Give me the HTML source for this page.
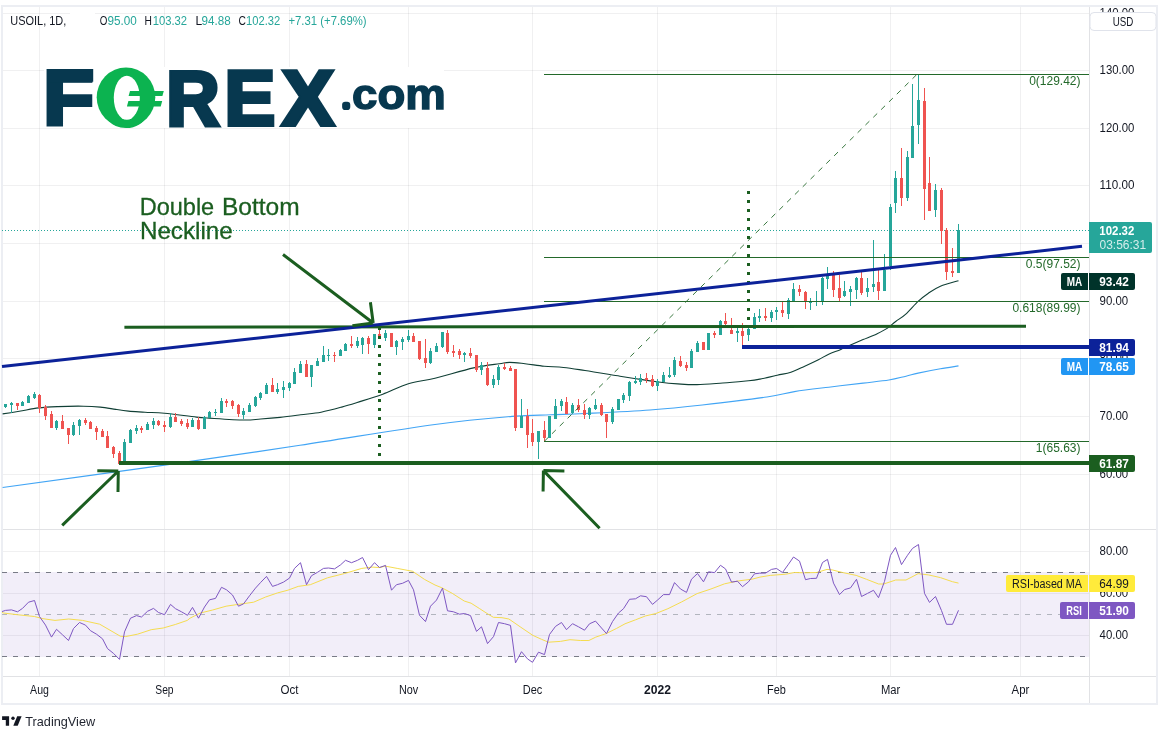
<!DOCTYPE html>
<html lang="en">
<head>
<meta charset="utf-8">
<title>USOIL Daily Chart - FOREX.com</title>
<style>
html,body{margin:0;padding:0;background:#fff;}
body{width:1167px;height:739px;overflow:hidden;font-family:"Liberation Sans", Arial, sans-serif;}
svg{display:block;}
text{white-space:pre;}
</style>
</head>
<body>
<svg width="1167" height="739" viewBox="0 0 1167 739" font-family='"Liberation Sans", Arial, sans-serif'>
<rect x="0" y="0" width="1167" height="739" fill="#ffffff" />
<g shape-rendering="crispEdges">
<rect x="39" y="6" width="1" height="670" fill="rgba(30,34,45,0.065)" />
<rect x="164" y="6" width="1" height="670" fill="rgba(30,34,45,0.065)" />
<rect x="289" y="6" width="1" height="670" fill="rgba(30,34,45,0.065)" />
<rect x="408" y="6" width="1" height="670" fill="rgba(30,34,45,0.065)" />
<rect x="532" y="6" width="1" height="670" fill="rgba(30,34,45,0.065)" />
<rect x="657" y="6" width="1" height="670" fill="rgba(30,34,45,0.065)" />
<rect x="776" y="6" width="1" height="670" fill="rgba(30,34,45,0.065)" />
<rect x="890" y="6" width="1" height="670" fill="rgba(30,34,45,0.065)" />
<rect x="1020" y="6" width="1" height="670" fill="rgba(30,34,45,0.065)" />
<rect x="3" y="13" width="1086" height="1" fill="rgba(30,34,45,0.065)" />
<rect x="3" y="70" width="1086" height="1" fill="rgba(30,34,45,0.065)" />
<rect x="3" y="128" width="1086" height="1" fill="rgba(30,34,45,0.065)" />
<rect x="3" y="185" width="1086" height="1" fill="rgba(30,34,45,0.065)" />
<rect x="3" y="243" width="1086" height="1" fill="rgba(30,34,45,0.065)" />
<rect x="3" y="301" width="1086" height="1" fill="rgba(30,34,45,0.065)" />
<rect x="3" y="358" width="1086" height="1" fill="rgba(30,34,45,0.065)" />
<rect x="3" y="416" width="1086" height="1" fill="rgba(30,34,45,0.065)" />
<rect x="3" y="474" width="1086" height="1" fill="rgba(30,34,45,0.065)" />
<rect x="3" y="551" width="1086" height="1" fill="rgba(30,34,45,0.065)" />
<rect x="3" y="593" width="1086" height="1" fill="rgba(30,34,45,0.065)" />
<rect x="3" y="635" width="1086" height="1" fill="rgba(30,34,45,0.065)" />
<rect x="3" y="572" width="1086" height="85" fill="#7e57c2" fill-opacity="0.1"/>
<rect x="70" y="12" width="25" height="3" fill="#ffffff" />
<rect x="1" y="5" width="1157" height="2" fill="#eceef3" />
<rect x="1" y="5" width="2" height="700" fill="#eceef3" />
<rect x="1156" y="5" width="2" height="700" fill="#eceef3" />
<rect x="1" y="703" width="1157" height="2" fill="#eceef3" />
<rect x="1089" y="7" width="1" height="696" fill="#e1e2e5" />
<rect x="3" y="529" width="1153" height="1" fill="#e1e2e5" />
<rect x="3" y="676" width="1153" height="1" fill="#e1e2e5" />
</g>
<line x1="2" y1="230.5" x2="1089" y2="230.5" stroke="#26a69a" stroke-width="1" stroke-dasharray="1 2" shape-rendering="crispEdges"/>
<rect x="44" y="67" width="400" height="61" fill="#ffffff" />
<path d="M2.6,487.5C29.6,483.8 114.9,472.1 164.5,465.1C214.1,458.1 254.9,452.1 300.0,445.3C345.1,438.5 399.7,429.3 435.0,424.5C470.3,419.7 492.7,418.0 512.0,416.4C531.3,414.8 538.5,415.3 550.7,414.8C562.9,414.3 568.5,414.3 585.0,413.5C601.5,412.7 630.5,411.4 650.0,410.0C669.5,408.6 682.8,407.2 702.3,405.0C721.8,402.8 751.5,399.2 766.9,397.0C782.2,394.8 784.1,393.2 794.4,391.6C804.7,390.0 817.2,388.6 828.7,387.2C840.2,385.8 853.1,384.3 863.1,383.1C873.1,381.9 881.8,381.1 888.9,380.0C896.0,378.9 901.1,377.3 906.0,376.2C910.9,375.1 912.4,374.3 918.1,373.1C923.8,371.9 933.7,370.0 940.4,368.8C947.1,367.6 955.5,366.4 958.5,365.9" fill="none" stroke="#42a5f5" stroke-width="1.1" />
<path d="M2.6,413.9C5.4,413.5 13.3,412.3 19.3,411.3C25.3,410.3 32.2,408.7 38.6,407.9C45.0,407.1 50.3,406.9 57.8,406.6C65.3,406.3 76.4,406.1 83.5,406.2C90.6,406.3 94.9,406.6 100.3,407.1C105.7,407.6 111.0,408.7 115.7,409.4C120.4,410.1 123.6,410.6 128.5,411.1C133.4,411.6 139.0,411.8 145.0,412.2C151.0,412.6 155.9,412.5 164.5,413.3C173.1,414.1 188.9,416.3 196.4,417.1C203.9,417.9 201.4,417.6 209.3,418.1C217.2,418.6 235.4,419.9 244.0,420.0C252.6,420.1 254.7,419.4 260.7,419.0C266.7,418.6 273.4,418.1 280.0,417.4C286.6,416.7 293.8,415.7 300.6,414.8C307.5,413.9 314.2,413.5 321.1,412.2C328.0,410.9 334.8,409.0 341.7,407.1C348.6,405.2 355.4,403.0 362.3,400.9C369.2,398.8 375.1,397.0 382.8,394.2C390.5,391.4 399.7,386.5 408.4,383.8C417.1,381.1 424.1,380.9 435.0,378.2C445.9,375.5 462.9,370.3 473.6,367.9C484.3,365.5 493.3,364.6 499.3,363.7C505.3,362.8 505.3,362.4 509.6,362.4C513.9,362.4 519.2,363.1 525.0,363.7C530.8,364.3 537.9,365.6 544.3,366.2C550.7,366.8 556.7,366.8 563.5,367.5C570.3,368.2 575.6,369.1 585.0,370.5C594.4,371.9 610.7,374.7 620.0,376.2C629.3,377.7 634.2,378.4 640.6,379.4C647.0,380.4 652.4,381.2 658.6,382.0C664.8,382.8 671.4,383.5 677.8,383.9C684.2,384.3 689.5,384.8 697.0,384.6C704.5,384.5 714.2,383.6 722.8,383.0C731.4,382.4 742.3,381.3 748.5,380.7C754.7,380.1 755.2,380.0 760.0,379.1C764.8,378.2 772.1,376.4 777.2,375.2C782.4,374.0 786.3,373.7 790.9,372.2C795.5,370.7 800.1,368.3 804.7,366.2C809.3,364.1 814.4,361.7 818.4,359.7C822.4,357.7 825.0,355.9 828.7,354.2C832.4,352.5 837.1,351.0 840.8,349.4C844.5,347.8 847.4,346.3 851.1,344.7C854.8,343.1 858.8,341.4 863.1,339.6C867.4,337.8 872.8,335.8 876.8,333.9C880.8,332.0 884.0,330.5 887.1,328.4C890.2,326.3 892.5,323.9 895.7,321.5C898.9,319.1 902.4,317.2 906.1,313.8C909.8,310.4 914.4,304.8 918.1,301.4C921.8,298.0 924.7,295.7 928.4,293.2C932.1,290.7 935.4,288.4 940.4,286.3C945.4,284.2 955.5,281.6 958.5,280.7" fill="none" stroke="#103f35" stroke-width="1.1" />
<g shape-rendering="crispEdges">
<rect x="5" y="404" width="1" height="4" fill="#26a69a" />
<rect x="4" y="404" width="3" height="3" fill="#26a69a" />
<rect x="11" y="402" width="1" height="11" fill="#26a69a" />
<rect x="10" y="403" width="3" height="2" fill="#26a69a" />
<rect x="17" y="403" width="1" height="7" fill="#ef5350" />
<rect x="16" y="403" width="3" height="3" fill="#ef5350" />
<rect x="22" y="401" width="1" height="5" fill="#26a69a" />
<rect x="21" y="402" width="3" height="4" fill="#26a69a" />
<rect x="28" y="395" width="1" height="8" fill="#26a69a" />
<rect x="27" y="396" width="3" height="7" fill="#26a69a" />
<rect x="34" y="392" width="1" height="7" fill="#26a69a" />
<rect x="33" y="394" width="3" height="4" fill="#26a69a" />
<rect x="39" y="394" width="1" height="19" fill="#ef5350" />
<rect x="38" y="395" width="3" height="13" fill="#ef5350" />
<rect x="45" y="405" width="1" height="15" fill="#ef5350" />
<rect x="44" y="407" width="3" height="9" fill="#ef5350" />
<rect x="51" y="411" width="1" height="17" fill="#ef5350" />
<rect x="50" y="414" width="3" height="14" fill="#ef5350" />
<rect x="56" y="420" width="1" height="10" fill="#26a69a" />
<rect x="55" y="421" width="3" height="7" fill="#26a69a" />
<rect x="62" y="415" width="1" height="14" fill="#ef5350" />
<rect x="61" y="421" width="3" height="8" fill="#ef5350" />
<rect x="68" y="428" width="1" height="16" fill="#ef5350" />
<rect x="67" y="428" width="3" height="7" fill="#ef5350" />
<rect x="73" y="422" width="1" height="14" fill="#26a69a" />
<rect x="72" y="425" width="3" height="10" fill="#26a69a" />
<rect x="79" y="419" width="1" height="16" fill="#26a69a" />
<rect x="78" y="420" width="3" height="6" fill="#26a69a" />
<rect x="85" y="418" width="1" height="7" fill="#ef5350" />
<rect x="84" y="420" width="3" height="3" fill="#ef5350" />
<rect x="90" y="421" width="1" height="8" fill="#ef5350" />
<rect x="89" y="422" width="3" height="7" fill="#ef5350" />
<rect x="96" y="426" width="1" height="14" fill="#ef5350" />
<rect x="95" y="428" width="3" height="4" fill="#ef5350" />
<rect x="102" y="429" width="1" height="8" fill="#ef5350" />
<rect x="101" y="431" width="3" height="6" fill="#ef5350" />
<rect x="107" y="431" width="1" height="17" fill="#ef5350" />
<rect x="106" y="436" width="3" height="12" fill="#ef5350" />
<rect x="113" y="446" width="1" height="12" fill="#ef5350" />
<rect x="112" y="447" width="3" height="7" fill="#ef5350" />
<rect x="119" y="451" width="1" height="13" fill="#ef5350" />
<rect x="118" y="453" width="3" height="11" fill="#ef5350" />
<rect x="124" y="439" width="1" height="23" fill="#26a69a" />
<rect x="123" y="442" width="3" height="20" fill="#26a69a" />
<rect x="130" y="429" width="1" height="14" fill="#26a69a" />
<rect x="129" y="430" width="3" height="13" fill="#26a69a" />
<rect x="136" y="425" width="1" height="9" fill="#26a69a" />
<rect x="135" y="428" width="3" height="3" fill="#26a69a" />
<rect x="141" y="426" width="1" height="7" fill="#ef5350" />
<rect x="140" y="428" width="3" height="2" fill="#ef5350" />
<rect x="147" y="422" width="1" height="8" fill="#26a69a" />
<rect x="146" y="424" width="3" height="6" fill="#26a69a" />
<rect x="153" y="418" width="1" height="11" fill="#26a69a" />
<rect x="152" y="421" width="3" height="4" fill="#26a69a" />
<rect x="158" y="420" width="1" height="6" fill="#ef5350" />
<rect x="157" y="421" width="3" height="4" fill="#ef5350" />
<rect x="164" y="421" width="1" height="11" fill="#ef5350" />
<rect x="163" y="425" width="3" height="2" fill="#ef5350" />
<rect x="170" y="413" width="1" height="15" fill="#26a69a" />
<rect x="169" y="417" width="3" height="10" fill="#26a69a" />
<rect x="175" y="413" width="1" height="9" fill="#ef5350" />
<rect x="174" y="417" width="3" height="5" fill="#ef5350" />
<rect x="181" y="419" width="1" height="7" fill="#ef5350" />
<rect x="180" y="421" width="3" height="3" fill="#ef5350" />
<rect x="187" y="419" width="1" height="10" fill="#ef5350" />
<rect x="186" y="423" width="3" height="4" fill="#ef5350" />
<rect x="192" y="418" width="1" height="9" fill="#26a69a" />
<rect x="191" y="420" width="3" height="7" fill="#26a69a" />
<rect x="198" y="417" width="1" height="13" fill="#ef5350" />
<rect x="197" y="420" width="3" height="9" fill="#ef5350" />
<rect x="204" y="416" width="1" height="13" fill="#26a69a" />
<rect x="203" y="417" width="3" height="12" fill="#26a69a" />
<rect x="209" y="411" width="1" height="7" fill="#26a69a" />
<rect x="208" y="412" width="3" height="6" fill="#26a69a" />
<rect x="215" y="409" width="1" height="7" fill="#26a69a" />
<rect x="214" y="412" width="3" height="1" fill="#26a69a" />
<rect x="221" y="398" width="1" height="15" fill="#26a69a" />
<rect x="220" y="401" width="3" height="12" fill="#26a69a" />
<rect x="226" y="399" width="1" height="8" fill="#ef5350" />
<rect x="225" y="401" width="3" height="2" fill="#ef5350" />
<rect x="232" y="400" width="1" height="9" fill="#ef5350" />
<rect x="231" y="401" width="3" height="5" fill="#ef5350" />
<rect x="238" y="404" width="1" height="13" fill="#ef5350" />
<rect x="237" y="405" width="3" height="9" fill="#ef5350" />
<rect x="243" y="408" width="1" height="11" fill="#26a69a" />
<rect x="242" y="411" width="3" height="4" fill="#26a69a" />
<rect x="249" y="403" width="1" height="9" fill="#26a69a" />
<rect x="248" y="405" width="3" height="7" fill="#26a69a" />
<rect x="255" y="396" width="1" height="11" fill="#26a69a" />
<rect x="254" y="397" width="3" height="9" fill="#26a69a" />
<rect x="260" y="392" width="1" height="8" fill="#26a69a" />
<rect x="259" y="393" width="3" height="5" fill="#26a69a" />
<rect x="266" y="383" width="1" height="11" fill="#26a69a" />
<rect x="265" y="385" width="3" height="9" fill="#26a69a" />
<rect x="272" y="378" width="1" height="14" fill="#ef5350" />
<rect x="271" y="385" width="3" height="7" fill="#ef5350" />
<rect x="277" y="383" width="1" height="11" fill="#26a69a" />
<rect x="276" y="389" width="3" height="3" fill="#26a69a" />
<rect x="283" y="381" width="1" height="17" fill="#26a69a" />
<rect x="282" y="387" width="3" height="3" fill="#26a69a" />
<rect x="289" y="382" width="1" height="9" fill="#26a69a" />
<rect x="288" y="383" width="3" height="5" fill="#26a69a" />
<rect x="294" y="368" width="1" height="16" fill="#26a69a" />
<rect x="293" y="372" width="3" height="12" fill="#26a69a" />
<rect x="300" y="361" width="1" height="12" fill="#26a69a" />
<rect x="299" y="364" width="3" height="9" fill="#26a69a" />
<rect x="306" y="360" width="1" height="17" fill="#ef5350" />
<rect x="305" y="364" width="3" height="13" fill="#ef5350" />
<rect x="311" y="365" width="1" height="22" fill="#26a69a" />
<rect x="310" y="365" width="3" height="12" fill="#26a69a" />
<rect x="317" y="358" width="1" height="8" fill="#26a69a" />
<rect x="316" y="361" width="3" height="5" fill="#26a69a" />
<rect x="323" y="346" width="1" height="16" fill="#26a69a" />
<rect x="322" y="355" width="3" height="7" fill="#26a69a" />
<rect x="328" y="349" width="1" height="12" fill="#26a69a" />
<rect x="327" y="355" width="3" height="1" fill="#26a69a" />
<rect x="334" y="352" width="1" height="10" fill="#ef5350" />
<rect x="333" y="355" width="3" height="1" fill="#ef5350" />
<rect x="340" y="349" width="1" height="7" fill="#26a69a" />
<rect x="339" y="350" width="3" height="6" fill="#26a69a" />
<rect x="345" y="343" width="1" height="8" fill="#26a69a" />
<rect x="344" y="344" width="3" height="7" fill="#26a69a" />
<rect x="351" y="336" width="1" height="12" fill="#ef5350" />
<rect x="350" y="344" width="3" height="2" fill="#ef5350" />
<rect x="357" y="337" width="1" height="11" fill="#26a69a" />
<rect x="356" y="341" width="3" height="5" fill="#26a69a" />
<rect x="362" y="337" width="1" height="17" fill="#26a69a" />
<rect x="361" y="338" width="3" height="7" fill="#26a69a" />
<rect x="368" y="336" width="1" height="18" fill="#ef5350" />
<rect x="367" y="338" width="3" height="6" fill="#ef5350" />
<rect x="374" y="334" width="1" height="14" fill="#26a69a" />
<rect x="373" y="334" width="3" height="11" fill="#26a69a" />
<rect x="379" y="330" width="1" height="6" fill="#ef5350" />
<rect x="378" y="334" width="3" height="2" fill="#ef5350" />
<rect x="385" y="330" width="1" height="11" fill="#26a69a" />
<rect x="384" y="333" width="3" height="5" fill="#26a69a" />
<rect x="391" y="333" width="1" height="14" fill="#ef5350" />
<rect x="390" y="333" width="3" height="14" fill="#ef5350" />
<rect x="396" y="340" width="1" height="15" fill="#26a69a" />
<rect x="395" y="341" width="3" height="6" fill="#26a69a" />
<rect x="402" y="337" width="1" height="13" fill="#26a69a" />
<rect x="401" y="339" width="3" height="3" fill="#26a69a" />
<rect x="408" y="330" width="1" height="12" fill="#26a69a" />
<rect x="407" y="336" width="3" height="4" fill="#26a69a" />
<rect x="413" y="333" width="1" height="9" fill="#ef5350" />
<rect x="412" y="336" width="3" height="6" fill="#ef5350" />
<rect x="419" y="341" width="1" height="19" fill="#ef5350" />
<rect x="418" y="341" width="3" height="18" fill="#ef5350" />
<rect x="425" y="339" width="1" height="29" fill="#ef5350" />
<rect x="424" y="358" width="3" height="5" fill="#ef5350" />
<rect x="430" y="348" width="1" height="16" fill="#26a69a" />
<rect x="429" y="351" width="3" height="12" fill="#26a69a" />
<rect x="436" y="343" width="1" height="9" fill="#26a69a" />
<rect x="435" y="346" width="3" height="6" fill="#26a69a" />
<rect x="442" y="332" width="1" height="16" fill="#26a69a" />
<rect x="441" y="332" width="3" height="15" fill="#26a69a" />
<rect x="447" y="330" width="1" height="24" fill="#ef5350" />
<rect x="446" y="333" width="3" height="19" fill="#ef5350" />
<rect x="453" y="345" width="1" height="12" fill="#ef5350" />
<rect x="452" y="351" width="3" height="2" fill="#ef5350" />
<rect x="459" y="349" width="1" height="10" fill="#ef5350" />
<rect x="458" y="351" width="3" height="4" fill="#ef5350" />
<rect x="464" y="352" width="1" height="10" fill="#26a69a" />
<rect x="463" y="353" width="3" height="2" fill="#26a69a" />
<rect x="470" y="348" width="1" height="10" fill="#ef5350" />
<rect x="469" y="353" width="3" height="3" fill="#ef5350" />
<rect x="476" y="355" width="1" height="17" fill="#ef5350" />
<rect x="475" y="355" width="3" height="15" fill="#ef5350" />
<rect x="481" y="362" width="1" height="13" fill="#26a69a" />
<rect x="480" y="365" width="3" height="5" fill="#26a69a" />
<rect x="487" y="362" width="1" height="24" fill="#ef5350" />
<rect x="486" y="368" width="3" height="17" fill="#ef5350" />
<rect x="493" y="375" width="1" height="13" fill="#26a69a" />
<rect x="492" y="379" width="3" height="6" fill="#26a69a" />
<rect x="498" y="365" width="1" height="20" fill="#26a69a" />
<rect x="497" y="367" width="3" height="13" fill="#26a69a" />
<rect x="504" y="363" width="1" height="7" fill="#ef5350" />
<rect x="503" y="367" width="3" height="2" fill="#ef5350" />
<rect x="510" y="366" width="1" height="5" fill="#ef5350" />
<rect x="509" y="368" width="3" height="3" fill="#ef5350" />
<rect x="515" y="369" width="1" height="62" fill="#ef5350" />
<rect x="514" y="369" width="3" height="59" fill="#ef5350" />
<rect x="521" y="399" width="1" height="29" fill="#26a69a" />
<rect x="520" y="416" width="3" height="12" fill="#26a69a" />
<rect x="527" y="409" width="1" height="39" fill="#ef5350" />
<rect x="526" y="416" width="3" height="19" fill="#ef5350" />
<rect x="532" y="419" width="1" height="27" fill="#ef5350" />
<rect x="531" y="433" width="3" height="9" fill="#ef5350" />
<rect x="538" y="431" width="1" height="28" fill="#26a69a" />
<rect x="537" y="431" width="3" height="11" fill="#26a69a" />
<rect x="544" y="421" width="1" height="20" fill="#ef5350" />
<rect x="543" y="430" width="3" height="8" fill="#ef5350" />
<rect x="549" y="416" width="1" height="22" fill="#26a69a" />
<rect x="548" y="416" width="3" height="22" fill="#26a69a" />
<rect x="555" y="399" width="1" height="20" fill="#26a69a" />
<rect x="554" y="406" width="3" height="13" fill="#26a69a" />
<rect x="561" y="399" width="1" height="12" fill="#26a69a" />
<rect x="560" y="401" width="3" height="5" fill="#26a69a" />
<rect x="566" y="397" width="1" height="17" fill="#ef5350" />
<rect x="565" y="402" width="3" height="12" fill="#ef5350" />
<rect x="572" y="403" width="1" height="11" fill="#26a69a" />
<rect x="571" y="405" width="3" height="8" fill="#26a69a" />
<rect x="578" y="399" width="1" height="13" fill="#ef5350" />
<rect x="577" y="405" width="3" height="5" fill="#ef5350" />
<rect x="584" y="404" width="1" height="15" fill="#ef5350" />
<rect x="583" y="410" width="3" height="5" fill="#ef5350" />
<rect x="589" y="407" width="1" height="12" fill="#26a69a" />
<rect x="588" y="408" width="3" height="7" fill="#26a69a" />
<rect x="595" y="399" width="1" height="11" fill="#26a69a" />
<rect x="594" y="405" width="3" height="4" fill="#26a69a" />
<rect x="601" y="403" width="1" height="13" fill="#ef5350" />
<rect x="600" y="405" width="3" height="10" fill="#ef5350" />
<rect x="606" y="414" width="1" height="24" fill="#ef5350" />
<rect x="605" y="414" width="3" height="8" fill="#ef5350" />
<rect x="612" y="407" width="1" height="17" fill="#26a69a" />
<rect x="611" y="409" width="3" height="13" fill="#26a69a" />
<rect x="618" y="399" width="1" height="11" fill="#26a69a" />
<rect x="617" y="399" width="3" height="11" fill="#26a69a" />
<rect x="623" y="393" width="1" height="10" fill="#26a69a" />
<rect x="622" y="395" width="3" height="5" fill="#26a69a" />
<rect x="629" y="381" width="1" height="20" fill="#26a69a" />
<rect x="628" y="382" width="3" height="14" fill="#26a69a" />
<rect x="635" y="376" width="1" height="8" fill="#26a69a" />
<rect x="634" y="381" width="3" height="2" fill="#26a69a" />
<rect x="640" y="374" width="1" height="11" fill="#26a69a" />
<rect x="639" y="378" width="3" height="4" fill="#26a69a" />
<rect x="646" y="373" width="1" height="10" fill="#ef5350" />
<rect x="645" y="378" width="3" height="2" fill="#ef5350" />
<rect x="652" y="375" width="1" height="12" fill="#ef5350" />
<rect x="651" y="379" width="3" height="7" fill="#ef5350" />
<rect x="657" y="379" width="1" height="12" fill="#26a69a" />
<rect x="656" y="381" width="3" height="5" fill="#26a69a" />
<rect x="663" y="372" width="1" height="10" fill="#26a69a" />
<rect x="662" y="375" width="3" height="7" fill="#26a69a" />
<rect x="669" y="367" width="1" height="11" fill="#26a69a" />
<rect x="668" y="375" width="3" height="2" fill="#26a69a" />
<rect x="674" y="357" width="1" height="20" fill="#26a69a" />
<rect x="673" y="360" width="3" height="15" fill="#26a69a" />
<rect x="680" y="356" width="1" height="11" fill="#ef5350" />
<rect x="679" y="361" width="3" height="5" fill="#ef5350" />
<rect x="686" y="362" width="1" height="9" fill="#ef5350" />
<rect x="685" y="365" width="3" height="3" fill="#ef5350" />
<rect x="691" y="349" width="1" height="19" fill="#26a69a" />
<rect x="690" y="351" width="3" height="17" fill="#26a69a" />
<rect x="697" y="341" width="1" height="11" fill="#26a69a" />
<rect x="696" y="343" width="3" height="9" fill="#26a69a" />
<rect x="703" y="342" width="1" height="8" fill="#ef5350" />
<rect x="702" y="342" width="3" height="8" fill="#ef5350" />
<rect x="708" y="333" width="1" height="17" fill="#26a69a" />
<rect x="707" y="333" width="3" height="17" fill="#26a69a" />
<rect x="714" y="331" width="1" height="7" fill="#ef5350" />
<rect x="713" y="333" width="3" height="2" fill="#ef5350" />
<rect x="720" y="320" width="1" height="15" fill="#26a69a" />
<rect x="719" y="321" width="3" height="14" fill="#26a69a" />
<rect x="725" y="313" width="1" height="12" fill="#ef5350" />
<rect x="724" y="321" width="3" height="3" fill="#ef5350" />
<rect x="731" y="318" width="1" height="16" fill="#ef5350" />
<rect x="730" y="330" width="3" height="4" fill="#ef5350" />
<rect x="737" y="328" width="1" height="14" fill="#26a69a" />
<rect x="736" y="331" width="3" height="2" fill="#26a69a" />
<rect x="742" y="323" width="1" height="22" fill="#ef5350" />
<rect x="741" y="331" width="3" height="5" fill="#ef5350" />
<rect x="748" y="328" width="1" height="13" fill="#26a69a" />
<rect x="747" y="329" width="3" height="6" fill="#26a69a" />
<rect x="754" y="313" width="1" height="16" fill="#26a69a" />
<rect x="753" y="317" width="3" height="12" fill="#26a69a" />
<rect x="759" y="309" width="1" height="13" fill="#26a69a" />
<rect x="758" y="316" width="3" height="2" fill="#26a69a" />
<rect x="765" y="308" width="1" height="13" fill="#ef5350" />
<rect x="764" y="316" width="3" height="2" fill="#ef5350" />
<rect x="771" y="310" width="1" height="12" fill="#26a69a" />
<rect x="770" y="312" width="3" height="6" fill="#26a69a" />
<rect x="776" y="307" width="1" height="13" fill="#26a69a" />
<rect x="775" y="310" width="3" height="2" fill="#26a69a" />
<rect x="782" y="302" width="1" height="15" fill="#ef5350" />
<rect x="781" y="310" width="3" height="3" fill="#ef5350" />
<rect x="788" y="298" width="1" height="21" fill="#26a69a" />
<rect x="787" y="300" width="3" height="14" fill="#26a69a" />
<rect x="793" y="283" width="1" height="18" fill="#26a69a" />
<rect x="792" y="289" width="3" height="12" fill="#26a69a" />
<rect x="799" y="285" width="1" height="11" fill="#ef5350" />
<rect x="798" y="289" width="3" height="3" fill="#ef5350" />
<rect x="805" y="291" width="1" height="18" fill="#ef5350" />
<rect x="804" y="292" width="3" height="10" fill="#ef5350" />
<rect x="810" y="298" width="1" height="12" fill="#26a69a" />
<rect x="809" y="301" width="3" height="2" fill="#26a69a" />
<rect x="816" y="291" width="1" height="15" fill="#26a69a" />
<rect x="822" y="277" width="1" height="28" fill="#26a69a" />
<rect x="821" y="278" width="3" height="23" fill="#26a69a" />
<rect x="827" y="267" width="1" height="22" fill="#26a69a" />
<rect x="826" y="276" width="3" height="3" fill="#26a69a" />
<rect x="833" y="271" width="1" height="26" fill="#ef5350" />
<rect x="832" y="275" width="3" height="15" fill="#ef5350" />
<rect x="839" y="275" width="1" height="26" fill="#ef5350" />
<rect x="838" y="288" width="3" height="10" fill="#ef5350" />
<rect x="844" y="281" width="1" height="16" fill="#26a69a" />
<rect x="843" y="291" width="3" height="5" fill="#26a69a" />
<rect x="850" y="286" width="1" height="20" fill="#26a69a" />
<rect x="849" y="289" width="3" height="3" fill="#26a69a" />
<rect x="856" y="277" width="1" height="22" fill="#26a69a" />
<rect x="855" y="278" width="3" height="12" fill="#26a69a" />
<rect x="861" y="272" width="1" height="23" fill="#ef5350" />
<rect x="860" y="278" width="3" height="15" fill="#ef5350" />
<rect x="867" y="278" width="1" height="19" fill="#26a69a" />
<rect x="866" y="288" width="3" height="4" fill="#26a69a" />
<rect x="873" y="240" width="1" height="52" fill="#26a69a" />
<rect x="872" y="284" width="3" height="3" fill="#26a69a" />
<rect x="878" y="270" width="1" height="30" fill="#ef5350" />
<rect x="877" y="282" width="3" height="9" fill="#ef5350" />
<rect x="884" y="254" width="1" height="37" fill="#26a69a" />
<rect x="883" y="270" width="3" height="21" fill="#26a69a" />
<rect x="890" y="204" width="1" height="66" fill="#26a69a" />
<rect x="889" y="207" width="3" height="59" fill="#26a69a" />
<rect x="895" y="171" width="1" height="42" fill="#26a69a" />
<rect x="894" y="178" width="3" height="25" fill="#26a69a" />
<rect x="901" y="148" width="1" height="58" fill="#ef5350" />
<rect x="900" y="178" width="3" height="20" fill="#ef5350" />
<rect x="907" y="151" width="1" height="50" fill="#26a69a" />
<rect x="906" y="157" width="3" height="41" fill="#26a69a" />
<rect x="912" y="84" width="1" height="74" fill="#26a69a" />
<rect x="911" y="126" width="3" height="32" fill="#26a69a" />
<rect x="918" y="74" width="1" height="70" fill="#26a69a" />
<rect x="917" y="100" width="3" height="25" fill="#26a69a" />
<rect x="924" y="88" width="1" height="132" fill="#ef5350" />
<rect x="923" y="101" width="3" height="88" fill="#ef5350" />
<rect x="929" y="157" width="1" height="54" fill="#ef5350" />
<rect x="928" y="183" width="3" height="28" fill="#ef5350" />
<rect x="935" y="184" width="1" height="33" fill="#26a69a" />
<rect x="934" y="190" width="3" height="20" fill="#26a69a" />
<rect x="941" y="188" width="1" height="56" fill="#ef5350" />
<rect x="940" y="190" width="3" height="41" fill="#ef5350" />
<rect x="946" y="228" width="1" height="52" fill="#ef5350" />
<rect x="945" y="230" width="3" height="42" fill="#ef5350" />
<rect x="952" y="248" width="1" height="29" fill="#ef5350" />
<rect x="951" y="271" width="3" height="2" fill="#ef5350" />
<rect x="958" y="224" width="1" height="49" fill="#26a69a" />
<rect x="957" y="230" width="3" height="43" fill="#26a69a" />
</g>
<g shape-rendering="crispEdges">
<rect x="544" y="74" width="545" height="1" fill="#23692a" />
<rect x="544" y="257" width="545" height="1" fill="#23692a" />
<rect x="544" y="301" width="545" height="1" fill="#23692a" />
<rect x="544" y="441" width="545" height="1" fill="#23692a" />
</g>
<line x1="544.1" y1="441.5" x2="916.8" y2="74.5" stroke="#23692a" stroke-width="1" stroke-dasharray="5.5 5.5" opacity="0.9"/>
<g shape-rendering="crispEdges">
<rect x="119" y="461" width="970" height="4" fill="#1b5e20" />
<rect x="742" y="345" width="347" height="4" fill="#0c2299" />
</g>
<line x1="124.4" y1="327.2" x2="1026" y2="326.2" stroke="#1b5e20" stroke-width="3" />
<g shape-rendering="crispEdges">
<rect x="378" y="327" width="3" height="3" fill="#1b5e20" />
<rect x="747" y="191" width="3" height="3" fill="#1b5e20" />
<rect x="378" y="336" width="3" height="3" fill="#1b5e20" />
<rect x="747" y="200" width="3" height="3" fill="#1b5e20" />
<rect x="378" y="345" width="3" height="3" fill="#1b5e20" />
<rect x="747" y="209" width="3" height="3" fill="#1b5e20" />
<rect x="378" y="354" width="3" height="3" fill="#1b5e20" />
<rect x="747" y="218" width="3" height="3" fill="#1b5e20" />
<rect x="378" y="363" width="3" height="3" fill="#1b5e20" />
<rect x="747" y="227" width="3" height="3" fill="#1b5e20" />
<rect x="378" y="372" width="3" height="3" fill="#1b5e20" />
<rect x="747" y="236" width="3" height="3" fill="#1b5e20" />
<rect x="378" y="381" width="3" height="3" fill="#1b5e20" />
<rect x="747" y="245" width="3" height="3" fill="#1b5e20" />
<rect x="378" y="390" width="3" height="3" fill="#1b5e20" />
<rect x="747" y="254" width="3" height="3" fill="#1b5e20" />
<rect x="378" y="399" width="3" height="3" fill="#1b5e20" />
<rect x="747" y="263" width="3" height="3" fill="#1b5e20" />
<rect x="378" y="408" width="3" height="3" fill="#1b5e20" />
<rect x="747" y="272" width="3" height="3" fill="#1b5e20" />
<rect x="378" y="417" width="3" height="3" fill="#1b5e20" />
<rect x="747" y="281" width="3" height="3" fill="#1b5e20" />
<rect x="378" y="426" width="3" height="3" fill="#1b5e20" />
<rect x="747" y="290" width="3" height="3" fill="#1b5e20" />
<rect x="378" y="435" width="3" height="3" fill="#1b5e20" />
<rect x="747" y="299" width="3" height="3" fill="#1b5e20" />
<rect x="378" y="444" width="3" height="3" fill="#1b5e20" />
<rect x="747" y="308" width="3" height="3" fill="#1b5e20" />
<rect x="378" y="453" width="3" height="3" fill="#1b5e20" />
<rect x="747" y="317" width="3" height="3" fill="#1b5e20" />
</g>
<line x1="2" y1="366.5" x2="1082" y2="246.3" stroke="#0c2299" stroke-width="3" />
<path d="M283,254.5L373.2,323M352.4,325.8L373.2,323M370.4,302.2L373.2,323" fill="none" stroke="#1b5e20" stroke-width="3" stroke-linejoin="round" stroke-linecap="butt"/>
<path d="M62.2,525.3L118.3,471M118.0,492.0L118.3,471M97.3,470.7L118.3,471" fill="none" stroke="#1b5e20" stroke-width="3" stroke-linejoin="round" stroke-linecap="butt"/>
<path d="M599.6,528.2L543.4,470.6M564.4,470.9L543.4,470.6M543.1,491.6L543.4,470.6" fill="none" stroke="#1b5e20" stroke-width="3" stroke-linejoin="round" stroke-linecap="butt"/>
<text y="214.7" font-size="24" fill="#1b5e20" stroke="#1b5e20" stroke-width="0.3"><tspan x="139.7" textLength="74.5" lengthAdjust="spacingAndGlyphs">Double</tspan> <tspan x="221.9" textLength="77.7" lengthAdjust="spacingAndGlyphs">Bottom</tspan></text>
<text x="139.9" y="238.7" font-size="24" fill="#1b5e20" text-anchor="start" font-weight="normal" textLength="92.9" lengthAdjust="spacingAndGlyphs" stroke="#1b5e20" stroke-width="0.3">Neckline</text>
<text x="1080.5" y="84.6" font-size="12" fill="#23692a" text-anchor="end" font-weight="normal" >0(129.42)</text>
<text x="1080.5" y="267.8" font-size="12" fill="#23692a" text-anchor="end" font-weight="normal" >0.5(97.52)</text>
<text x="1080.5" y="311.8" font-size="12" fill="#23692a" text-anchor="end" font-weight="normal" >0.618(89.99)</text>
<text x="1080.5" y="451.8" font-size="12" fill="#23692a" text-anchor="end" font-weight="normal" >1(65.63)</text>
<line x1="2" y1="572.5" x2="1089" y2="572.5" stroke="#787b86" stroke-width="1" stroke-dasharray="5 6" shape-rendering="crispEdges"/>
<line x1="2" y1="656.5" x2="1089" y2="656.5" stroke="#787b86" stroke-width="1" stroke-dasharray="5 6" shape-rendering="crispEdges"/>
<line x1="2" y1="614.5" x2="1089" y2="614.5" stroke="#b2b5be" stroke-width="1" stroke-dasharray="5 6" shape-rendering="crispEdges"/>
<clipPath id="pane"><rect x="2" y="6" width="1087" height="670"/></clipPath>
<g clip-path="url(#pane)">
<polyline points="-2.0,610.4 3.4,613.0 17.2,614.7 34.4,616.5 43.0,618.7 55.0,620.4 68.7,619.0 82.5,620.4 99.7,624.2 110.0,630.2 120.3,636.2 125.4,636.6 137.5,634.2 151.2,629.7 163.2,628.0 175.3,624.5 187.3,620.4 190.0,618.2 200.3,613.0 212.3,610.1 226.1,606.2 238.1,604.4 253.6,602.2 265.6,597.0 277.6,592.9 287.9,590.2 298.2,586.4 310.3,584.7 327.5,577.8 344.6,573.5 361.8,568.4 372.1,567.1 379.0,567.5 380.0,567.5 385.2,566.1 397.2,568.4 412.6,571.3 424.7,579.5 435.0,585.0 441.9,587.8 452.2,593.3 464.2,601.0 471.1,603.2 479.7,608.7 488.2,614.2 493.4,617.3 502.0,617.7 508.9,619.0 520.9,627.3 532.9,635.4 541.5,639.3 548.4,642.2 560.4,641.4 570.0,639.7 580.3,640.5 588.9,640.5 595.8,637.1 606.1,633.6 616.4,628.5 625.0,623.8 635.3,619.9 645.6,615.9 655.9,613.5 667.9,608.7 681.7,601.9 697.1,593.6 710.9,589.0 724.6,583.8 738.4,580.9 752.1,579.2 760.0,577.1 770.3,575.4 785.8,574.2 794.4,572.5 804.7,572.8 816.7,572.5 827.0,569.4 832.2,569.9 842.5,572.5 856.2,575.4 866.5,579.3 878.6,584.0 883.7,584.0 895.7,580.0 906.0,580.0 918.1,573.7 928.4,574.9 940.4,577.6 952.4,581.7 958.5,583.1" fill="none" stroke="#f5dc50" stroke-width="1.0" stroke-linejoin="round" />
<polyline points="-0.2,612.3 5.5,610.4 11.5,609.9 17.5,611.8 22.5,608.4 28.5,602.2 34.5,600.5 39.5,616.5 45.5,625.1 51.5,637.1 56.5,629.3 62.5,634.8 68.5,640.5 73.5,628.5 79.5,622.5 85.5,625.1 90.5,630.7 96.5,634.2 102.5,638.8 107.5,648.6 113.5,653.4 119.5,659.4 124.5,631.9 130.5,618.2 136.5,615.6 141.5,617.0 147.5,611.3 153.5,608.4 158.5,612.5 164.5,614.7 170.5,604.4 175.5,608.7 181.5,611.8 187.5,615.3 192.5,607.4 198.5,618.2 204.5,607.0 209.5,599.8 215.5,598.4 221.5,587.3 226.5,589.8 232.5,595.0 238.5,606.2 243.5,603.9 249.5,595.8 255.5,588.1 260.5,582.6 266.5,576.4 272.5,586.4 277.5,584.7 283.5,582.1 289.5,578.1 294.5,568.4 300.5,562.7 306.5,584.7 311.5,575.7 317.5,572.3 323.5,568.4 328.5,568.0 334.5,568.9 340.5,564.9 345.5,560.3 351.5,562.7 357.5,560.3 362.5,557.5 368.5,569.6 374.5,562.7 379.5,567.5 385.5,565.4 391.5,590.2 396.5,584.7 402.5,583.3 408.5,580.4 413.5,589.8 419.5,615.3 425.5,621.6 430.5,606.2 436.5,600.1 442.5,588.1 447.5,610.8 453.5,611.8 459.5,614.2 464.5,613.5 470.5,615.6 476.5,631.4 481.5,626.8 487.5,643.6 493.5,636.6 498.5,622.5 504.5,623.7 510.5,625.4 515.5,662.9 521.5,651.7 527.5,658.9 532.5,662.3 538.5,652.2 544.5,654.6 549.5,634.5 555.5,626.4 561.5,622.5 566.5,629.7 572.5,623.7 578.5,626.8 584.5,630.2 589.5,623.8 595.5,621.1 601.5,628.0 606.5,633.6 612.5,621.6 618.5,613.0 623.5,608.7 629.5,599.3 635.5,598.8 640.5,595.8 646.5,596.7 652.5,604.4 657.5,600.1 663.5,594.6 669.5,594.6 674.5,582.6 680.5,589.0 686.5,592.4 691.5,579.2 697.5,573.5 703.5,581.8 708.5,571.8 714.5,572.6 720.5,565.3 725.5,568.9 731.5,582.1 737.5,581.2 742.5,586.7 748.5,581.8 754.5,573.8 759.5,573.2 765.5,573.1 771.5,569.4 776.5,568.5 782.5,572.5 788.5,564.2 793.5,557.0 799.5,561.1 805.5,579.7 810.5,578.5 816.5,578.3 822.5,562.5 827.5,559.4 833.5,583.1 839.5,594.6 844.5,589.6 850.5,587.9 856.5,579.3 861.5,596.5 867.5,593.4 873.5,590.3 878.5,597.7 884.5,581.4 890.5,555.3 895.5,547.5 901.5,564.6 907.5,555.3 912.5,548.4 918.5,544.5 924.5,593.4 929.5,602.4 935.5,596.5 941.5,610.6 946.5,624.3 952.5,624.3 958.5,610.3" fill="none" stroke="#7e57c2" stroke-width="1.0" stroke-linejoin="round" />
</g>
<g shape-rendering="crispEdges">
<rect x="1090" y="7" width="66" height="522" fill="#ffffff" />
<rect x="1090" y="530" width="66" height="146" fill="#ffffff" />
</g>
<text x="1099.6" y="17.2" font-size="12" fill="#131722" text-anchor="start" font-weight="normal" textLength="34.8" lengthAdjust="spacingAndGlyphs" >140.00</text>
<text x="1099.6" y="74.2" font-size="12" fill="#131722" text-anchor="start" font-weight="normal" textLength="34.8" lengthAdjust="spacingAndGlyphs" >130.00</text>
<text x="1099.6" y="132.2" font-size="12" fill="#131722" text-anchor="start" font-weight="normal" textLength="34.8" lengthAdjust="spacingAndGlyphs" >120.00</text>
<text x="1099.6" y="189.2" font-size="12" fill="#131722" text-anchor="start" font-weight="normal" textLength="34.8" lengthAdjust="spacingAndGlyphs" >110.00</text>
<text x="1099.6" y="247.2" font-size="12" fill="#131722" text-anchor="start" font-weight="normal" textLength="34.8" lengthAdjust="spacingAndGlyphs" >100.00</text>
<text x="1099.6" y="305.2" font-size="12" fill="#131722" text-anchor="start" font-weight="normal" textLength="28.6" lengthAdjust="spacingAndGlyphs" >90.00</text>
<text x="1099.6" y="362.2" font-size="12" fill="#131722" text-anchor="start" font-weight="normal" textLength="28.6" lengthAdjust="spacingAndGlyphs" >80.00</text>
<text x="1099.6" y="420.2" font-size="12" fill="#131722" text-anchor="start" font-weight="normal" textLength="28.6" lengthAdjust="spacingAndGlyphs" >70.00</text>
<text x="1099.6" y="478.2" font-size="12" fill="#131722" text-anchor="start" font-weight="normal" textLength="28.6" lengthAdjust="spacingAndGlyphs" >60.00</text>
<text x="1099.6" y="555.2" font-size="12" fill="#131722" text-anchor="start" font-weight="normal" textLength="28.6" lengthAdjust="spacingAndGlyphs" >80.00</text>
<text x="1099.6" y="597.2" font-size="12" fill="#131722" text-anchor="start" font-weight="normal" textLength="28.6" lengthAdjust="spacingAndGlyphs" >60.00</text>
<text x="1099.6" y="639.2" font-size="12" fill="#131722" text-anchor="start" font-weight="normal" textLength="28.6" lengthAdjust="spacingAndGlyphs" >40.00</text>
<rect x="1090" y="12.5" width="66" height="18" rx="4" fill="#ffffff" stroke="#e0e3eb"/>
<text x="1112.7" y="25.6" font-size="12" fill="#131722" text-anchor="start" font-weight="normal" textLength="20.6" lengthAdjust="spacingAndGlyphs" >USD</text>
<rect x="1089" y="222" width="63" height="31" rx="2" fill="#26a69a"/>
<rect x="1089" y="222" width="3" height="31" fill="#26a69a" />
<text x="1099.3" y="235.3" font-size="12" fill="#ffffff" text-anchor="start" font-weight="bold" textLength="35" lengthAdjust="spacingAndGlyphs" >102.32</text>
<text x="1099.5" y="249" font-size="12" fill="#d4edeb" text-anchor="start" font-weight="normal" >03:56:31</text>
<rect x="1089" y="273" width="46" height="17" rx="2" fill="#00332a"/>
<rect x="1089" y="273" width="3" height="17" fill="#00332a" />
<text x="1099.3" y="285.8" font-size="12" fill="#ffffff" text-anchor="start" font-weight="bold" textLength="29.6" lengthAdjust="spacingAndGlyphs" >93.42</text>
<rect x="1061" y="273" width="27" height="17" rx="2" fill="#00332a"/>
<rect x="1085" y="273" width="3" height="17" fill="#00332a" />
<text x="1066.75" y="285.8" font-size="12" fill="#ffffff" text-anchor="start" font-weight="bold" textLength="15.5" lengthAdjust="spacingAndGlyphs" >MA</text>
<rect x="1089" y="339" width="46" height="17" rx="2" fill="#0c2299"/>
<rect x="1089" y="339" width="3" height="17" fill="#0c2299" />
<text x="1099.3" y="351.8" font-size="12" fill="#ffffff" text-anchor="start" font-weight="bold" textLength="29.6" lengthAdjust="spacingAndGlyphs" >81.94</text>
<rect x="1089" y="358" width="46" height="17" rx="2" fill="#2196f3"/>
<rect x="1089" y="358" width="3" height="17" fill="#2196f3" />
<text x="1099.3" y="370.8" font-size="12" fill="#ffffff" text-anchor="start" font-weight="bold" textLength="29.6" lengthAdjust="spacingAndGlyphs" >78.65</text>
<rect x="1061" y="358" width="27" height="17" rx="2" fill="#2196f3"/>
<rect x="1085" y="358" width="3" height="17" fill="#2196f3" />
<text x="1066.75" y="370.8" font-size="12" fill="#ffffff" text-anchor="start" font-weight="bold" textLength="15.5" lengthAdjust="spacingAndGlyphs" >MA</text>
<rect x="1089" y="455" width="46" height="17" rx="2" fill="#1b5e20"/>
<rect x="1089" y="455" width="3" height="17" fill="#1b5e20" />
<text x="1099.3" y="467.8" font-size="12" fill="#ffffff" text-anchor="start" font-weight="bold" textLength="29.6" lengthAdjust="spacingAndGlyphs" >61.87</text>
<rect x="1089" y="575" width="46" height="17" rx="2" fill="#ffeb3b"/>
<rect x="1089" y="575" width="3" height="17" fill="#ffeb3b" />
<text x="1099.3" y="587.8" font-size="12" fill="#131722" text-anchor="start" font-weight="normal" textLength="29.6" lengthAdjust="spacingAndGlyphs" >64.99</text>
<rect x="1006" y="575" width="82" height="17" rx="2" fill="#ffeb3b"/>
<rect x="1085" y="575" width="3" height="17" fill="#ffeb3b" />
<text x="1012.0" y="587.8" font-size="12" fill="#131722" text-anchor="start" font-weight="normal" textLength="70" lengthAdjust="spacingAndGlyphs" >RSI-based MA</text>
<rect x="1089" y="602" width="46" height="17" rx="2" fill="#7e57c2"/>
<rect x="1089" y="602" width="3" height="17" fill="#7e57c2" />
<text x="1099.3" y="614.8" font-size="12" fill="#ffffff" text-anchor="start" font-weight="bold" textLength="29.6" lengthAdjust="spacingAndGlyphs" >51.90</text>
<rect x="1060" y="602" width="28" height="17" rx="2" fill="#7e57c2"/>
<rect x="1085" y="602" width="3" height="17" fill="#7e57c2" />
<text x="1066.25" y="614.8" font-size="12" fill="#ffffff" text-anchor="start" font-weight="bold" textLength="15.5" lengthAdjust="spacingAndGlyphs" >RSI</text>
<text x="30.1" y="694" font-size="12" fill="#131722" text-anchor="start" font-weight="normal" textLength="18.8" lengthAdjust="spacingAndGlyphs" >Aug</text>
<text x="155.3" y="694" font-size="12" fill="#131722" text-anchor="start" font-weight="normal" textLength="18.3" lengthAdjust="spacingAndGlyphs" >Sep</text>
<text x="280.5" y="694" font-size="12" fill="#131722" text-anchor="start" font-weight="normal" textLength="18" lengthAdjust="spacingAndGlyphs" >Oct</text>
<text x="398.9" y="694" font-size="12" fill="#131722" text-anchor="start" font-weight="normal" textLength="19.3" lengthAdjust="spacingAndGlyphs" >Nov</text>
<text x="522.8" y="694" font-size="12" fill="#131722" text-anchor="start" font-weight="normal" textLength="19.5" lengthAdjust="spacingAndGlyphs" >Dec</text>
<text x="644.0" y="694" font-size="12" fill="#131722" text-anchor="start" font-weight="bold" textLength="27" lengthAdjust="spacingAndGlyphs" >2022</text>
<text x="767.1" y="694" font-size="12" fill="#131722" text-anchor="start" font-weight="normal" textLength="18.8" lengthAdjust="spacingAndGlyphs" >Feb</text>
<text x="880.9" y="694" font-size="12" fill="#131722" text-anchor="start" font-weight="normal" textLength="19.3" lengthAdjust="spacingAndGlyphs" >Mar</text>
<text x="1011.6" y="694" font-size="12" fill="#131722" text-anchor="start" font-weight="normal" textLength="17.7" lengthAdjust="spacingAndGlyphs" >Apr</text>
<text x="10.3" y="24.8" font-size="12" fill="#131722" text-anchor="start" font-weight="normal" textLength="56" lengthAdjust="spacingAndGlyphs" >USOIL, 1D,</text>
<text x="99.7" y="24.8" font-size="12" fill="#131722" text-anchor="start" font-weight="normal" textLength="7.6" lengthAdjust="spacingAndGlyphs" >O</text>
<text x="107.5" y="24.8" font-size="12" fill="#26a69a" text-anchor="start" font-weight="normal" textLength="29.3" lengthAdjust="spacingAndGlyphs" >95.00</text>
<text x="144.5" y="24.8" font-size="12" fill="#131722" text-anchor="start" font-weight="normal" textLength="7.4" lengthAdjust="spacingAndGlyphs" >H</text>
<text x="152.7" y="24.8" font-size="12" fill="#26a69a" text-anchor="start" font-weight="normal" textLength="34.4" lengthAdjust="spacingAndGlyphs" >103.32</text>
<text x="195.4" y="24.8" font-size="12" fill="#131722" text-anchor="start" font-weight="normal" >L</text>
<text x="201.5" y="24.8" font-size="12" fill="#26a69a" text-anchor="start" font-weight="normal" textLength="29.1" lengthAdjust="spacingAndGlyphs" >94.88</text>
<text x="238.4" y="24.8" font-size="12" fill="#131722" text-anchor="start" font-weight="normal" textLength="7.4" lengthAdjust="spacingAndGlyphs" >C</text>
<text x="246" y="24.8" font-size="12" fill="#26a69a" text-anchor="start" font-weight="normal" textLength="34.2" lengthAdjust="spacingAndGlyphs" >102.32</text>
<text x="288.4" y="24.8" font-size="12" fill="#26a69a" text-anchor="start" font-weight="normal" textLength="78.2" lengthAdjust="spacingAndGlyphs" >+7.31 (+7.69%)</text>
<text transform="translate(43.2,124.6) scale(1.13,1.055)" font-weight="bold" font-size="73.5" stroke-width="4" stroke-linejoin="miter" paint-order="stroke" fill="#07384f" stroke="#07384f">F</text>
<rect x="47" y="69" width="45.4" height="13.8" fill="#07384f"/>
<text transform="translate(100.5,124.6) scale(0.9,1.055)" font-weight="bold" font-size="73.5" stroke-width="4" stroke-linejoin="miter" paint-order="stroke" fill="#0cb350" stroke="#0cb350">O</text>
<ellipse cx="126" cy="97.35" rx="29.3" ry="29.8" fill="#0cb350"/>
<ellipse cx="126.8" cy="97.8" rx="13" ry="22" fill="#ffffff"/>
<path d="M130,91H163.8L162.4,96H128.6z M128.4,101H162.2L160.7,106.4H126.9z" fill="#0cb350"/>
<text transform="translate(166.3,124.6) scale(1.005,1.055)" font-weight="bold" font-size="73.5" stroke-width="4" stroke-linejoin="miter" paint-order="stroke" fill="#07384f" stroke="#07384f">R</text>
<text transform="translate(224.5,124.6) scale(1.035,1.055)" font-weight="bold" font-size="73.5" stroke-width="4" stroke-linejoin="miter" paint-order="stroke" fill="#07384f" stroke="#07384f">E</text>
<text transform="translate(282.0,124.6) scale(1.06,1.055)" font-weight="bold" font-size="73.5" stroke-width="4" stroke-linejoin="miter" paint-order="stroke" fill="#07384f" stroke="#07384f">X</text>
<text x="344.3" y="107.2" font-weight="bold" font-size="14" fill="#07384f" stroke="#07384f" stroke-width="6.2" stroke-linejoin="round">.</text>
<text transform="translate(352.1,109.3) scale(1.085,1)" font-weight="bold" font-size="42" fill="#07384f" stroke="#07384f" stroke-width="1.4">com</text>
<path d="M2.1,716.3h7v9.5h-3.3v-5.8h-3.7z" fill="#131722"/>
<circle cx="13" cy="718.2" r="1.7" fill="#131722"/>
<path d="M17.2,716.3h4.4l-3.9,9.5h-4.4z" fill="#131722"/>
<text x="25.3" y="725.8" font-size="13" fill="#1e222d" text-anchor="start" font-weight="normal" textLength="69.8" lengthAdjust="spacingAndGlyphs" >TradingView</text>
</svg>
</body>
</html>
